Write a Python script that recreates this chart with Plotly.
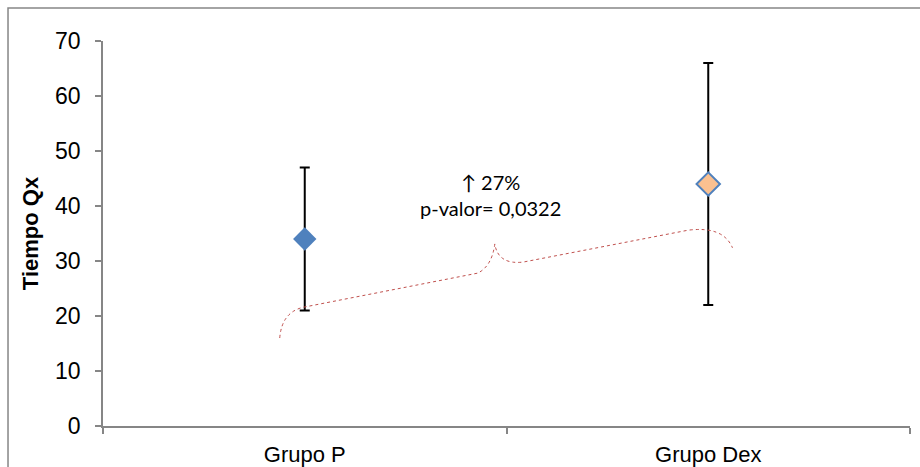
import plotly.graph_objects as go

categories = ["Grupo P", "Grupo Dex"]
means = [34, 44]
errors = [13, 22]
fill_colors = ["#4F81BD", "#FAC090"]
line_colors = ["#4F81BD", "#4F81BD"]

y_ticks = [0, 10, 20, 30, 40, 50, 60, 70]
annot_lines = ["↑ 27%", "p-valor= 0,0322"]

# brace points (category index, value) for the curly bracket decoration
brace_x = [-0.062, -0.057, -0.003, 0.429, 0.464, 0.471, 0.479, 0.541, 0.950, 1.037, 1.060]
brace_y = [16.0, 20.7, 21.6, 27.8, 29.1, 33.1, 29.3, 29.8, 35.6, 36.4, 32.4]

fig = go.Figure()
for i, c in enumerate(categories):
    fig.add_trace(go.Scatter(
        x=[c], y=[means[i]], mode="markers",
        marker=dict(symbol="diamond", size=18, color=fill_colors[i],
                    line=dict(color=line_colors[i], width=2 if i == 1 else 0)),
        error_y=dict(type="data", array=[errors[i]], visible=True,
                     color="black", thickness=2, width=5),
        showlegend=False, cliponaxis=False,
    ))

bx, by = brace_x, brace_y
path = (f"M {bx[0]},{by[0]} Q {bx[1]},{by[1]} {bx[2]},{by[2]} "
        f"L {bx[3]},{by[3]} Q {bx[4]},{by[4]} {bx[5]},{by[5]} "
        f"Q {bx[6]},{by[6]} {bx[7]},{by[7]} "
        f"L {bx[8]},{by[8]} Q {bx[9]},{by[9]} {bx[10]},{by[10]}")
fig.add_shape(type="path", path=path, xref="x", yref="y",
              line=dict(color="#C0504D", width=1, dash="dot"))

# outer chart border
fig.add_shape(type="rect", xref="paper", yref="paper",
              x0=-0.1177, x1=1.05, y0=-0.2, y1=1.0857,
              line=dict(color="#868686", width=1.5))

fig.add_annotation(x=0.46, y=44.3, xref="x", yref="y", text=annot_lines[0],
                   showarrow=False, font=dict(family="Lato", size=20, color="black"))
fig.add_annotation(x=0.46, y=39.6, xref="x", yref="y", text=annot_lines[1],
                   showarrow=False, font=dict(family="Lato", size=20, color="black"))

fig.update_layout(
    width=920, height=467,
    margin=dict(l=103, r=10, t=41, b=41),
    paper_bgcolor="white", plot_bgcolor="white",
    font=dict(family="Liberation Sans", size=22, color="black"),
    xaxis=dict(type="category", categoryorder="array", categoryarray=categories,
               range=[-0.5, 1.5], tickson="boundaries", ticks="outside", ticklen=6,
               tickcolor="#868686", tickwidth=1.5, ticklabelstandoff=8,
               showline=True, linecolor="#868686", linewidth=1.5, automargin=False,
               showgrid=False, zeroline=False, tickfont=dict(size=22)),
    yaxis=dict(range=[0, 70], tickvals=y_ticks, ticks="outside", ticklen=6,
               tickcolor="#868686", tickwidth=1.5, ticklabelstandoff=10,
               showline=True, linecolor="#868686", linewidth=1.5, automargin=False,
               showgrid=False, zeroline=False, tickfont=dict(size=23),
               title=dict(text="<b>Tiempo Qx</b>", font=dict(size=22), standoff=10)),
)

fig.write_html("out.html")
